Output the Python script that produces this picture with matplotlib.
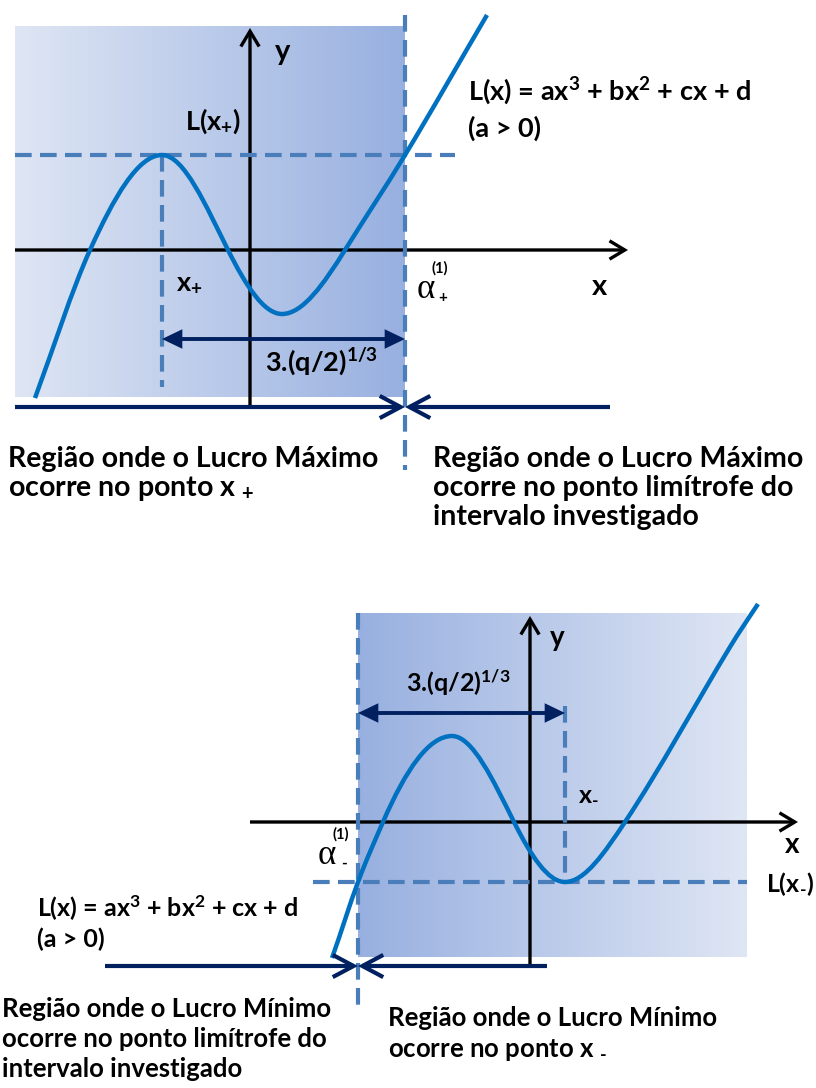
import numpy as np
import matplotlib
matplotlib.use("Agg")
import matplotlib.pyplot as plt
from matplotlib.path import Path
from matplotlib.patches import PathPatch
from matplotlib.colors import to_rgb

plt.rcParams["font.family"] = ["Lato", "DejaVu Sans"]
plt.rcParams["font.weight"] = "bold"
plt.rcParams["mathtext.fontset"] = "custom"
plt.rcParams["mathtext.rm"] = "Lato:bold"
plt.rcParams["mathtext.it"] = "Lato:bold"
plt.rcParams["mathtext.bf"] = "Lato:bold"
plt.rcParams["mathtext.sf"] = "Lato:bold"

# ---- profit curve L(x), sketched in each panel's own units (origin where axes cross)
top_curve_x = [-215, -160, -88, -22, 32, 95, 155, 237]
top_curve_y = [-148, 0, 95, 0, -64, 0, 95, 235]
top_curve_slope = [2.7, 2.2, 0.0, -2.0, 0.0, 1.6, 1.65, 1.7]

bot_curve_x = [-198, -172, -147, -78, -16, 35, 95, 200, 228]
bot_curve_y = [-136, -60, 0, 86, 0, -60, 0, 175, 218]
bot_curve_slope = [2.8, 2.7, 2.3, 0.0, -2.0, 0.0, 1.5, 1.65, 1.5]

# key points: local max/min, their values and the boundary root alpha
x_plus, L_x_plus, alpha_plus = -88, 95, 155
x_minus, L_x_minus, alpha_minus = 35, -60, -172

# region texts
top_left_lines = ["Região onde o Lucro Máximo", "ocorre no ponto x ${}_{+}$"]
top_right_lines = ["Região onde o Lucro Máximo", "ocorre no ponto limítrofe do",
                   "intervalo investigado"]
bot_left_lines = ["Região onde o Lucro Mínimo", "ocorre no ponto limítrofe do",
                  "intervalo investigado"]
bot_right_lines = ["Região onde o Lucro Mínimo", r"ocorre no ponto x ${}_{\text{-}}$"]
formula = "L(x) = ax$^{3}$ + bx$^{2}$ + cx + d"
condition = "(a > 0)"
span_label = "3.(q/2)$^{1/3}$"

# ---- styles
CURVE = "#0070c0"
DASH = "#4a7ebb"
NAVY = "#002060"
LIGHT = "#dfe6f4"
DARK = "#98b0e0"
DASHES = (0, (4.0, 2.0))
BODY_TOP, BODY_BOT = 20.5, 18.5
LABEL_TOP, LABEL_BOT = 19.5, 18

fig = plt.figure(figsize=(8.16, 10.88), dpi=100)
ax_top = fig.add_axes([0, 0.5, 1, 0.5])
ax_bot = fig.add_axes([0, 0, 1, 0.5])


def smooth_path(xs, ys, slopes):
    verts = [(xs[0], ys[0])]
    codes = [Path.MOVETO]
    for i in range(len(xs) - 1):
        d = (xs[i + 1] - xs[i]) / 3.0
        verts += [(xs[i] + d, ys[i] + slopes[i] * d),
                  (xs[i + 1] - d, ys[i + 1] - slopes[i + 1] * d),
                  (xs[i + 1], ys[i + 1])]
        codes += [Path.CURVE4] * 3
    return Path(verts, codes)


def shade(ax, x0, x1, y0, y1, c_left, c_right):
    t = np.linspace(0, 1, 256)[None, :, None]
    img = (1 - t) * np.array(to_rgb(c_left)) + t * np.array(to_rgb(c_right))
    ax.imshow(img, extent=(x0, x1, y0, y1), origin="lower", aspect="auto",
              interpolation="bilinear", zorder=0)


def arrow(ax, start, end, style, color, lw, ms=20, z=5):
    ax.annotate("", xy=end, xytext=start, zorder=z,
                arrowprops=dict(arrowstyle=style, color=color, lw=lw,
                                mutation_scale=ms, shrinkA=0, shrinkB=0,
                                joinstyle="miter", capstyle="butt"))


def dashed(ax, xs, ys):
    ax.plot(xs, ys, color=DASH, lw=3.0, ls=DASHES, dash_capstyle="butt", zorder=3)


def alpha_label(ax, x, y, sub):
    # alpha with the "(1)" index above and the sign below-right
    ax.text(x, y, "α", fontsize=25, family="Liberation Serif",
            fontweight="normal", ha="center", va="center")
    ax.text(x + 17, y - 8, sub, fontsize=11, ha="center", va="center")
    ax.text(x + 14, y + 22, "(1)", fontsize=10.5, ha="center", va="center")


AXIS_HEAD = "->,head_length=0.55,head_width=0.33"
BAR_HEAD = "->,head_length=0.75,head_width=0.4"
DIM_HEAD = "<|-|>,head_length=0.5,head_width=0.24"

# ================= top panel: maximum =================
ax = ax_top
shade(ax, -235, alpha_plus, -147, 224, LIGHT, DARK)
# coordinate axes
arrow(ax, (-235, 0), (378, 0), AXIS_HEAD, "black", 2.4, z=2)
arrow(ax, (0, -157), (0, 222), AXIS_HEAD, "black", 2.4, z=2)
# guides
dashed(ax, [-235, 205], [L_x_plus, L_x_plus])
dashed(ax, [x_plus, x_plus], [L_x_plus, -137])
dashed(ax, [alpha_plus, alpha_plus], [235, -220])
# curve
ax.add_patch(PathPatch(smooth_path(top_curve_x, top_curve_y, top_curve_slope),
                       fill=False, edgecolor=CURVE, lw=3.2, zorder=4,
                       capstyle="butt"))
# span between x+ and alpha+
arrow(ax, (x_plus, -89), (alpha_plus, -89), DIM_HEAD, NAVY, 2.8)
# region bar
arrow(ax, (-235, -157), (alpha_plus, -157), BAR_HEAD, NAVY, 3.0)
arrow(ax, (360, -157), (alpha_plus, -157), BAR_HEAD, NAVY, 3.0)

ax.text(33, 190, "y", fontsize=21, ha="center", va="baseline")
ax.text(350, -45, "x", fontsize=21, ha="center", va="baseline")
ax.text(-65, 120, "L(x$_{+}$)", fontsize=LABEL_TOP, ha="left", va="baseline")
ax.text(-74, -40, "x$_{+}$", fontsize=LABEL_TOP, ha="left", va="baseline")
ax.text(15, -122, span_label, fontsize=LABEL_TOP, ha="left", va="baseline")
ax.text(218, 150, formula, fontsize=LABEL_TOP, ha="left", va="baseline")
ax.text(218, 113, condition, fontsize=LABEL_TOP, ha="left", va="baseline")
alpha_label(ax, 176, -40, "+")

for i, line in enumerate(top_left_lines):
    ax.text(-242, -217 - 29 * i, line, fontsize=BODY_TOP, ha="left", va="baseline")
for i, line in enumerate(top_right_lines):
    ax.text(183, -217 - 29 * i, line, fontsize=BODY_TOP, ha="left", va="baseline")

ax.set_xlim(-250, 566)
ax.set_ylim(-294, 250)
ax.axis("off")

# ================= bottom panel: minimum =================
ax = ax_bot
shade(ax, alpha_minus, 217, -135, 209, DARK, LIGHT)
arrow(ax, (-280, 0), (268, 0), AXIS_HEAD, "black", 2.4, z=2)
arrow(ax, (0, -144), (0, 206), AXIS_HEAD, "black", 2.4, z=2)
dashed(ax, [-217, 217], [L_x_minus, L_x_minus])
dashed(ax, [x_minus, x_minus], [116, L_x_minus])
dashed(ax, [alpha_minus, alpha_minus], [209, -188])
ax.add_patch(PathPatch(smooth_path(bot_curve_x, bot_curve_y, bot_curve_slope),
                       fill=False, edgecolor=CURVE, lw=3.2, zorder=4,
                       capstyle="butt"))
arrow(ax, (alpha_minus, 109), (x_minus, 109), DIM_HEAD, NAVY, 2.8)
arrow(ax, (-425, -144), (alpha_minus, -144), BAR_HEAD, NAVY, 3.0)
arrow(ax, (17, -144), (alpha_minus, -144), BAR_HEAD, NAVY, 3.0)

ax.text(27, 176, "y", fontsize=20, ha="center", va="baseline")
ax.text(262, -31, "x", fontsize=20, ha="center", va="baseline")
ax.text(236, -70, r"L(x$_{\text{-}}$)", fontsize=LABEL_BOT, ha="left", va="baseline")
ax.text(48, 22, r"x$_{\text{-}}$", fontsize=LABEL_BOT, ha="left", va="baseline")
ax.text(-124, 130, span_label, fontsize=LABEL_BOT, ha="left", va="baseline")
ax.text(-493, -95, formula, fontsize=LABEL_BOT, ha="left", va="baseline")
ax.text(-493, -125, condition, fontsize=LABEL_BOT, ha="left", va="baseline")
alpha_label(ax, -203, -34, "-")

for i, line in enumerate(bot_left_lines):
    ax.text(-528, -195 - 30 * i, line, fontsize=BODY_BOT, ha="left", va="baseline")
for i, line in enumerate(bot_right_lines):
    ax.text(-142, -204 - 31 * i, line, fontsize=BODY_BOT, ha="left", va="baseline")

ax.set_xlim(-530, 286)
ax.set_ylim(-266, 278)
ax.axis("off")

fig.savefig("out.png", dpi=100)
